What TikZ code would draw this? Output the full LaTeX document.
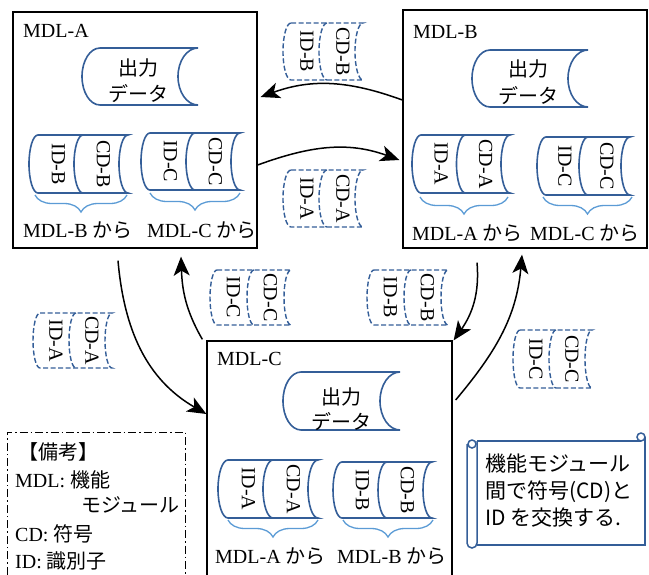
\documentclass[tikz,border=0pt]{standalone}
\usepackage{fontspec}
\setmainfont{Liberation Serif}
\newfontfamily\jp{Noto Sans CJK JP}
\usetikzlibrary{arrows.meta,decorations.pathreplacing,calc}
\definecolor{shapeblue}{RGB}{52,94,152}
\definecolor{braceblue}{RGB}{91,155,213}
\tikzset{
  blueln/.style={draw=shapeblue, line width=1.6pt},
  dashln/.style={draw=shapeblue, line width=1.4pt, dash pattern=on 5pt off 2.5pt},
  modbox/.style={draw=black, line width=1.3pt, inner sep=0pt, fill=none},
  txt/.style={inner sep=0pt, anchor=base west},
  jplbl/.style={inner sep=0pt, font=\fontsize{20}{24}\selectfont\jp},
  seglbl/.style={inner sep=0pt, rotate=-90},
  bracest/.style={draw=braceblue, line width=1.3pt, decorate, decoration={brace, amplitude=17pt}},
  conn/.style={-{Stealth[length=19pt,width=16pt,inset=5pt]}, line width=1.5pt},
  scrollst/.style={draw=shapeblue, line width=1.5pt},
}
% name, xs, top, bottom, segment width, depth, label1, label2, style
\newcommand\dpair[9]{%
  \draw[#9] (#2,-#3) -- ({#2+2*#5},-#3)
     arc[start angle=90,end angle=270,x radius=#6,y radius={(#4-#3)/2}]
     -- (#2,-#4)
     arc[start angle=270,end angle=90,x radius=#6,y radius={(#4-#3)/2}] -- cycle;
  \draw[#9] ({#2+#5},-#3) arc[start angle=90,end angle=270,x radius=#6,y radius={(#4-#3)/2}];
  \node[seglbl] (#1a) at ({#2+#5/2-2},{-(#3+#4)/2}) {#7};
  \node[seglbl] (#1b) at ({#2+1.5*#5-2},{-(#3+#4)/2}) {#8};
}
% name, x0, x1, top, bottom, text x, baseline1, baseline2
\newcommand\outdata[8]{%
  \draw[blueln] ({#2+18},-#4) -- (#3,-#4)
    arc[start angle=90,end angle=270,x radius=20,y radius={(#5-#4)/2}]
    -- ({#2+18},-#5)
    arc[start angle=270,end angle=90,x radius=18,y radius={(#5-#4)/2}] -- cycle;
  \node[jplbl, anchor=base] (#1o1) at (#6,-#7) {出力};
  \node[jplbl, anchor=base] (#1o2) at (#6,-#8) {データ};
}
\begin{document}
\begin{tikzpicture}[x=1pt,y=1pt,font=\fontsize{20}{24}\selectfont]
\useasboundingbox (0,0) rectangle (649,-574);

% module boxes
\node[modbox, minimum width=244pt, minimum height=236pt] (A) at (135,-130) {};
\node[modbox, minimum width=244pt, minimum height=238pt] (B) at (525,-129) {};
\node[modbox, minimum width=245pt, minimum height=244pt] (C) at (329.5,-463) {};

% titles
\node[txt] (At) at (23,-37) {MDL-A};
\node[txt] (Bt) at (413,-38) {MDL-B};
\node[txt] (Ct) at (217,-365) {MDL-C};

% output data
\outdata{A}{82}{198}{48}{105}{138}{75}{101}
\outdata{B}{472}{588}{50}{107}{528}{76}{103}
\outdata{C}{283}{400}{372}{430}{341}{404}{429}

% data pairs inside modules
\dpair{A1}{38}{135}{193}{45}{9}{ID-B}{CD-B}{blueln}
\dpair{A2}{150}{133}{190}{45}{9}{ID-C}{CD-C}{blueln}
\dpair{B1}{421}{135}{193}{44.5}{9}{ID-A}{CD-A}{blueln}
\dpair{B2}{546}{137}{195}{42}{9}{ID-C}{CD-C}{blueln}
\dpair{C1}{228}{460}{518}{45}{10}{ID-A}{CD-A}{blueln}
\dpair{C2}{342}{462}{518}{45}{9}{ID-B}{CD-B}{blueln}

% braces
\draw[bracest] (127,-195) -- (35,-195);
\draw[bracest] (240,-193) -- (150,-193);
\draw[bracest] (508,-197) -- (420,-197);
\draw[bracest] (632,-197) -- (543,-197);
\draw[bracest] (318,-520) -- (228,-520);
\draw[bracest] (433,-520) -- (343,-520);

% labels
\node[txt] (Al1) at (23,-237) {MDL-B {\jp から}};
\node[txt] (Al2) at (147,-237) {MDL-C {\jp から}};
\node[txt] (Bl1) at (412,-240) {MDL-A {\jp から}};
\node[txt] (Bl2) at (530,-240) {MDL-C {\jp から}};
\node[txt] (Cl1) at (215,-563) {MDL-A {\jp から}};
\node[txt] (Cl2) at (337,-563) {MDL-B {\jp から}};

% travelling data
\dpair{D1}{291}{23}{80}{36}{8}{ID-B}{CD-B}{dashln}
\dpair{D2}{291}{170}{227}{36}{8}{ID-A}{CD-A}{dashln}
\dpair{D3}{40}{313}{368}{36}{7}{ID-A}{CD-A}{dashln}
\dpair{D4}{217}{270}{325}{37}{7}{ID-C}{CD-C}{dashln}
\dpair{D5}{374}{270}{325}{37}{7}{ID-B}{CD-B}{dashln}
\dpair{D6}{520}{330}{388}{36}{7}{ID-C}{CD-C}{dashln}

% connectors
\draw[conn] ([yshift=29pt]B.west) to[out=160,in=20] ([xshift=3pt,yshift=33pt]A.east);
\draw[conn] ([yshift=-35pt]A.east) to[out=20,in=160] ([xshift=-3pt,yshift=-31pt]B.west);
\draw[conn] ([xshift=-17pt,yshift=-12pt]A.south) to[out=-85,in=150] ([yshift=49pt]C.west);
\draw[conn] ([xshift=-4pt,yshift=1pt]C.north west) to[out=120,in=-88] ([xshift=46pt,yshift=-8pt]A.south);
\draw[conn] ([xshift=-48pt,yshift=-14pt]B.south) to[out=-85,in=55] ([xshift=1pt,yshift=0pt]C.north east);
\draw[conn] ([xshift=3pt,yshift=63pt]C.east) to[out=50,in=-95] ([xshift=-3pt,yshift=-6pt]B.south);

% legend
\draw[line width=1pt, dash pattern=on 8pt off 3pt on 1.5pt off 3pt] (7,-590) -- (7,-432) -- (185,-432) -- (185,-590);
\node[txt] (L0) at (18,-459) {\jp 【備考】};
\node[txt] (L1) at (15,-487) {MDL: {\jp 機能}};
\node[inner sep=0pt, anchor=base east] (L2) at (180,-512) {\jp モジュール};
\node[txt] (L3) at (15,-541) {CD: {\jp 符号}};
\node[txt] (L4) at (15,-568) {ID: {\jp 識別子}};

% scroll note
\draw[scrollst] (477,-441) -- (641,-441);
\draw[scrollst] (641,-437) circle[radius=4];
\draw[scrollst] (645,-437) -- (645,-545) -- (477,-545);
\draw[scrollst, rounded corners=5pt] (477,-441) -- (477,-548) -- (467,-548) -- (467,-444);
\draw[scrollst] (472,-444) circle[radius=4];
\node[inner sep=0pt, anchor=base west, font=\fontsize{21}{27}\selectfont\jp] (N1) at (485,-471) {機能モジュール};
\node[inner sep=0pt, anchor=base west, font=\fontsize{21}{27}\selectfont\jp] (N2) at (485,-498) {間で符号(CD)と};
\node[inner sep=0pt, anchor=base west, font=\fontsize{21}{27}\selectfont\jp] (N3) at (485,-525) {ID を交換する.};
\end{tikzpicture}
\end{document}
